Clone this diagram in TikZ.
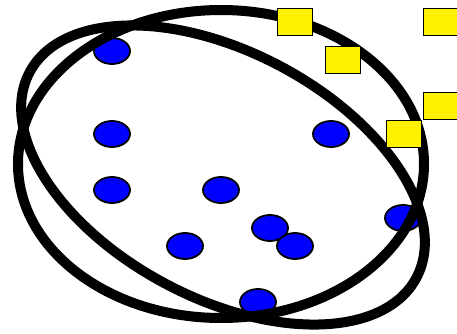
\documentclass[tikz,border=0pt]{standalone}
\usetikzlibrary{shapes.geometric}
\begin{document}
\begin{tikzpicture}[x=1pt,y=-1pt,
  dot/.style={ellipse, draw=black, line width=1.8pt, fill=blue, minimum width=36pt, minimum height=26pt, inner sep=0pt},
  sq/.style={rectangle, draw=black, line width=1.8pt, fill=yellow, minimum width=35pt, minimum height=27pt, inner sep=0pt},
  ring/.style={draw=black, line width=10pt}]
\useasboundingbox (0,0) rectangle (457,334);
\clip (0,0) rectangle (457,334);
\fill[white] (0,0) rectangle (457,334);
% blue dots
\node[dot] (b1) at (112,51) {};
\node[dot] (b2) at (112,134) {};
\node[dot] (b3) at (112,190) {};
\node[dot] (b4) at (221,190) {};
\node[dot] (b5) at (185,246) {};
\node[dot] (b6) at (331,134) {};
\node[dot] (b7) at (270,228) {};
\node[dot] (b8) at (295,246) {};
\node[dot] (b9) at (403,218) {};
\node[dot] (b10) at (258,302) {};
% the two rings
\coordinate (c1) at (221,164);
\coordinate (c2) at (223,175);
\draw[ring] (c1) ellipse [x radius=203, y radius=154];
\draw[ring, rotate around={-28:(c2)}] (c2) ellipse [x radius=219, y radius=123];
% yellow squares
\node[sq] (s1) at (295,22) {};
\node[sq] (s2) at (343,60) {};
\node[sq] (s3) at (441,22) {};
\node[sq] (s4) at (441,106) {};
\node[sq] (s5) at (404,134) {};
\end{tikzpicture}
\end{document}
